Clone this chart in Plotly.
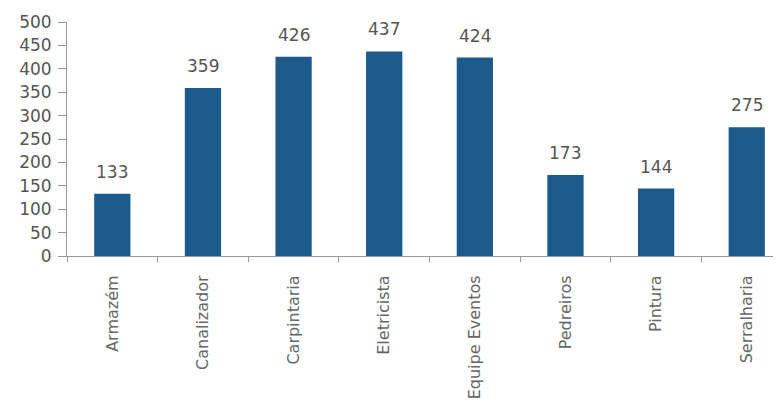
import plotly.graph_objects as go

# Dados do gráfico
categorias = ["Armazém", "Canalizador", "Carpintaria", "Eletricista",
              "Equipe Eventos", "Pedreiros", "Pintura", "Serralharia"]
valores = [133, 359, 426, 437, 424, 173, 144, 275]
y_ticks = [0, 50, 100, 150, 200, 250, 300, 350, 400, 450, 500]

cor_barra = "#1d5a8c"
cor_texto = "#555555"
fonte = "DejaVu Sans"

fig = go.Figure()
fig.add_trace(go.Bar(
    x=categorias, y=valores,
    marker=dict(color=cor_barra, line=dict(width=0)),
    width=0.4,
    cliponaxis=False,
))

# Rótulos de valor acima das barras
for cat, val in zip(categorias, valores):
    fig.add_annotation(x=cat, y=val, text=str(val), showarrow=False,
                       yanchor="bottom", yshift=10,
                       font=dict(size=17, color=cor_texto, family=fonte))

# a página tem 8px de margem no body
fig.update_layout(
    width=781, height=408,
    margin=dict(l=59, r=6, t=14, b=160, autoexpand=False),
    paper_bgcolor="white", plot_bgcolor="white",
    font=dict(family=fonte, color=cor_texto),
    showlegend=False,
    xaxis=dict(
        type="category", range=[-0.5, 7.4], automargin=False,
        tickangle=-90, tickfont=dict(size=16, color="#666666"),
        ticklabelstandoff=12,
        showline=True, linecolor="#999999", linewidth=1,
        ticks="outside", tickson="boundaries", ticklen=5, tickcolor="#999999",
        showgrid=False,
    ),
    yaxis=dict(
        range=[0, 500], tickvals=y_ticks, automargin=False,
        tickfont=dict(size=17, color=cor_texto),
        ticklabelstandoff=3,
        showline=True, linecolor="#999999", linewidth=1,
        ticks="outside", ticklen=8, tickcolor="#999999",
        showgrid=False, zeroline=False,
    ),
)

fig.write_html("out.html")
